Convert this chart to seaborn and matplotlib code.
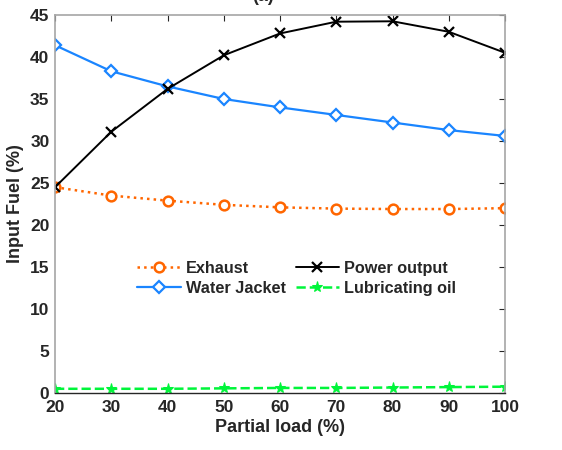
import matplotlib
matplotlib.use("Agg")
import matplotlib.pyplot as plt
import seaborn as sns
import numpy as np

load = [20, 30, 40, 50, 60, 70, 80, 90, 100]
exhaust = [24.5, 23.5, 22.9, 22.4, 22.1, 21.95, 21.9, 21.9, 22.0]
water_jacket = [41.4, 38.3, 36.5, 35.0, 34.0, 33.1, 32.2, 31.3, 30.6]
power_output = [24.5, 31.1, 36.2, 40.2, 42.8, 44.2, 44.25, 43.0, 40.5]
lubricating_oil = [0.5, 0.5, 0.5, 0.55, 0.6, 0.6, 0.65, 0.7, 0.75]

xticks = [20, 30, 40, 50, 60, 70, 80, 90, 100]
yticks = [0, 5, 10, 15, 20, 25, 30, 35, 40, 45]

sns.set_theme(style="white")
plt.rcParams['font.family'] = ['Liberation Sans', 'DejaVu Sans']
plt.rcParams['font.weight'] = 'bold'

fig = plt.figure(figsize=(5.62, 4.5), dpi=100)
ax = fig.add_axes([0.0979, 0.1267, 0.8007, 0.84])

orange = '#FF6600'
blue = '#1A85FF'
green = '#00F53A'

sns.lineplot(x=load, y=exhaust, ax=ax, color=orange, linestyle=':', linewidth=1.8,
             marker='o', markersize=7, markerfacecolor='white', markeredgecolor=orange,
             markeredgewidth=1.8, label='Exhaust')
sns.lineplot(x=load, y=water_jacket, ax=ax, color=blue, linestyle='-', linewidth=1.6,
             marker='D', markersize=6.5, markerfacecolor='white', markeredgecolor=blue,
             markeredgewidth=1.6, label='Water Jacket')
sns.lineplot(x=load, y=power_output, ax=ax, color='black', linestyle='-', linewidth=1.4,
             marker='x', markersize=6.5, markeredgewidth=1.6, markeredgecolor='black',
             markerfacecolor='black', label='Power output')
sns.lineplot(x=load, y=lubricating_oil, ax=ax, color=green, linestyle='--', linewidth=1.8,
             dashes=(4, 4), marker='*', markersize=8, markerfacecolor=green,
             markeredgecolor=green, label='Lubricating oil')

ax.set_xlim(20, 100)
ax.set_ylim(0, 45)
ax.set_xticks(xticks)
ax.set_yticks(yticks)
ax.tick_params(axis='both', which='both', direction='in', length=4, width=0.8,
               colors='#262626', labelsize=12.5, top=True, right=True)
ax.tick_params(axis='x', pad=5)
ax.tick_params(axis='y', pad=4)
for lab in ax.get_xticklabels() + ax.get_yticklabels():
    lab.set_fontweight('bold')
    lab.set_color('#262626')

for side in ['left', 'top', 'right']:
    ax.spines[side].set_color('#A6A6A6')
    ax.spines[side].set_linewidth(1.2)
ax.spines['bottom'].set_color('#262626')
ax.spines['bottom'].set_linewidth(1.0)

ax.set_xlabel('Partial load (%)', fontsize=13, fontweight='bold', color='#262626', labelpad=3)
ax.set_ylabel('Input Fuel (%)', fontsize=13, fontweight='bold', color='#262626', labelpad=4)

handles, labels = ax.get_legend_handles_labels()
leg = ax.legend(handles, labels, ncol=2, frameon=False, loc='center',
                bbox_to_anchor=(0.537, 0.303), fontsize=11.7, handlelength=2.7,
                handletextpad=0.3, columnspacing=0.6, labelspacing=0.3)
for t in leg.get_texts():
    t.set_fontweight('bold')

fig.text(0.468, 1.008, '(a)', ha='center', va='center', fontsize=13,
         fontweight='bold', color='#262626')

fig.savefig('out.png', dpi=100)
